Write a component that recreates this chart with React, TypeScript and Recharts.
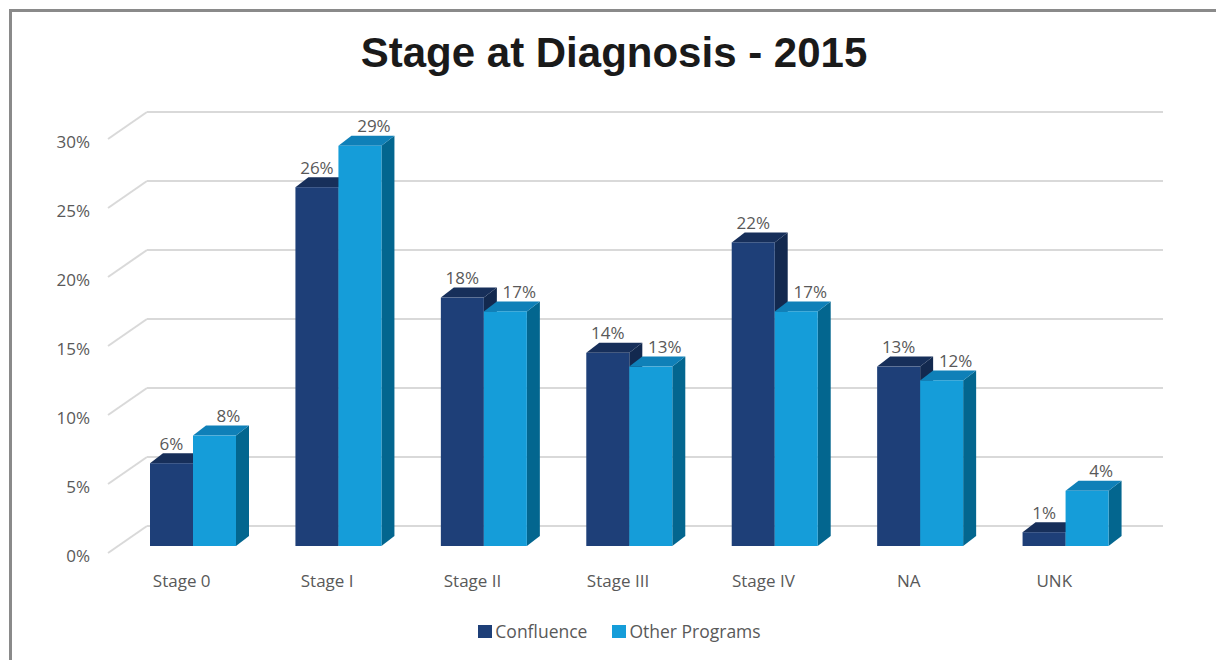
import React from "react";
import { BarChart, Bar, XAxis, YAxis, CartesianGrid, LabelList } from "recharts";

const CATEGORIES = ["Stage 0", "Stage I", "Stage II", "Stage III", "Stage IV", "NA", "UNK"];
const CONFLUENCE = [6, 26, 18, 14, 22, 13, 1];
const OTHER_PROGRAMS = [8, 29, 17, 13, 17, 12, 4];
const Y_TICKS = [0, 5, 10, 15, 20, 25, 30];

const data = CATEGORIES.map((stage, i) => ({
  stage,
  confluence: CONFLUENCE[i],
  other: OTHER_PROGRAMS[i],
}));

const W = 1216;
const H = 660;
const Y_AXIS_W = 30;
const X_AXIS_H = 30;
// plot area: x 120..1138, y 132..546
const MARGIN = { top: 132, right: 78, bottom: 114 - X_AXIS_H, left: 120 - Y_AXIS_W };
const PLOT_BOTTOM = H - 114;

// oblique depth of the bars and of the floor/back wall
const DEPTH_X = 13;
const DEPTH_Y = 10;
const FLOOR_FRONT = { x: 108, dy: 7 };
const WALL = { x: 147, right: 1163, dy: -20 };

const TEXT = "#595959";
const FONT = "'Open Sans', sans-serif";

const CONF_COLORS = { front: "#1e3f78", top: "#172f5a", side: "#13294f" };
const OTHER_COLORS = { front: "#159dd9", top: "#0f80b8", side: "#03668f" };

type Colors = { front: string; top: string; side: string };

const Box3D = (props: any & { colors: Colors }) => {
  const { x, y, width, height, colors } = props;
  if (!width || height == null || height <= 0) return null;
  const top = `${x},${y} ${x + width},${y} ${x + width + DEPTH_X},${y - DEPTH_Y} ${x + DEPTH_X},${y - DEPTH_Y}`;
  const side = `${x + width},${y} ${x + width + DEPTH_X},${y - DEPTH_Y} ${x + width + DEPTH_X},${y + height - DEPTH_Y} ${x + width},${y + height}`;
  return (
    <g>
      <polygon points={side} fill={colors.side} />
      <polygon points={top} fill={colors.top} />
      <rect x={x} y={y} width={width} height={height} fill={colors.front} />
    </g>
  );
};

const gridLine = (p: any) => {
  const y = p.y1;
  return (
    <g key={p.key}>
      <line x1={FLOOR_FRONT.x} y1={y + FLOOR_FRONT.dy} x2={WALL.x} y2={y + WALL.dy} stroke="#d9d9d9" strokeWidth={2} />
      <line x1={WALL.x} y1={y + WALL.dy} x2={WALL.right} y2={y + WALL.dy} stroke="#d9d9d9" strokeWidth={2} />
    </g>
  );
};

const YTick = (p: any) => (
  <text x={90} y={p.y + 9} textAnchor="end" dominantBaseline="central" fontSize={17} fontFamily={FONT} fill={TEXT}>
    {p.payload.value}%
  </text>
);

const XTick = (p: any) => (
  <text x={p.x - 11} y={PLOT_BOTTOM + 34} textAnchor="middle" dominantBaseline="central" fontSize={17} fontFamily={FONT} fill={TEXT}>
    {p.payload.value}
  </text>
);

const valueLabel = (shift: number) => (p: any) => (
  <text
    x={p.x + p.width / 2 + shift}
    y={p.y - 20}
    textAnchor="middle"
    dominantBaseline="central"
    fontSize={17}
    fontFamily={FONT}
    fill={TEXT}
  >
    {p.value}%
  </text>
);

const LegendItem = ({ color, label }: { color: string; label: string }) => (
  <div style={{ display: "flex", alignItems: "center", marginRight: 25 }}>
    <div style={{ width: 14, height: 13, background: color, marginRight: 3 }} />
    <span style={{ fontFamily: FONT, fontSize: 17.5, color: TEXT }}>{label}</span>
  </div>
);

export default function App() {
  return (
    <div style={{ position: "absolute", left: 0, top: 0, width: W, height: H, overflow: "hidden", background: "#fff" }}>
      <div
        style={{
          position: "absolute",
          left: 9,
          top: 9,
          width: W + 100,
          height: H + 100,
          border: "3px solid #8a8a8a",
          boxSizing: "border-box",
        }}
      />
      <svg width={W} height={90} style={{ position: "absolute", left: 0, top: 0 }}>
        <text x={614} y={67} textAnchor="middle" fontFamily="'Liberation Sans', Arial, sans-serif" fontWeight="bold" fontSize={42} fill="#1a1a1a">
          Stage at Diagnosis - 2015
        </text>
      </svg>
      <div style={{ position: "absolute", left: 0, top: 0 }}>
        <BarChart width={W} height={H} data={data} margin={MARGIN} barCategoryGap={30} barGap={0}>
          <CartesianGrid vertical={false} horizontal={gridLine} />
          <XAxis dataKey="stage" axisLine={false} tickLine={false} height={X_AXIS_H} tick={XTick} interval={0} />
          <YAxis domain={[0, 30]} ticks={Y_TICKS} axisLine={false} tickLine={false} width={Y_AXIS_W} tick={YTick} />
          <Bar dataKey="confluence" name="Confluence" fill={CONF_COLORS.front} isAnimationActive={false}
            shape={(p: any) => <Box3D {...p} colors={CONF_COLORS} />}>
            <LabelList dataKey="confluence" content={valueLabel(0)} />
          </Bar>
          <Bar dataKey="other" name="Other Programs" fill={OTHER_COLORS.front} isAnimationActive={false}
            shape={(p: any) => <Box3D {...p} colors={OTHER_COLORS} />}>
            <LabelList dataKey="other" content={valueLabel(14)} />
          </Bar>
        </BarChart>
      </div>
      <div style={{ position: "absolute", left: 0, width: W, top: 619, display: "flex", justifyContent: "center", paddingLeft: 24 }}>
        <LegendItem color={CONF_COLORS.front} label="Confluence" />
        <LegendItem color={OTHER_COLORS.front} label="Other Programs" />
      </div>
    </div>
  );
}
